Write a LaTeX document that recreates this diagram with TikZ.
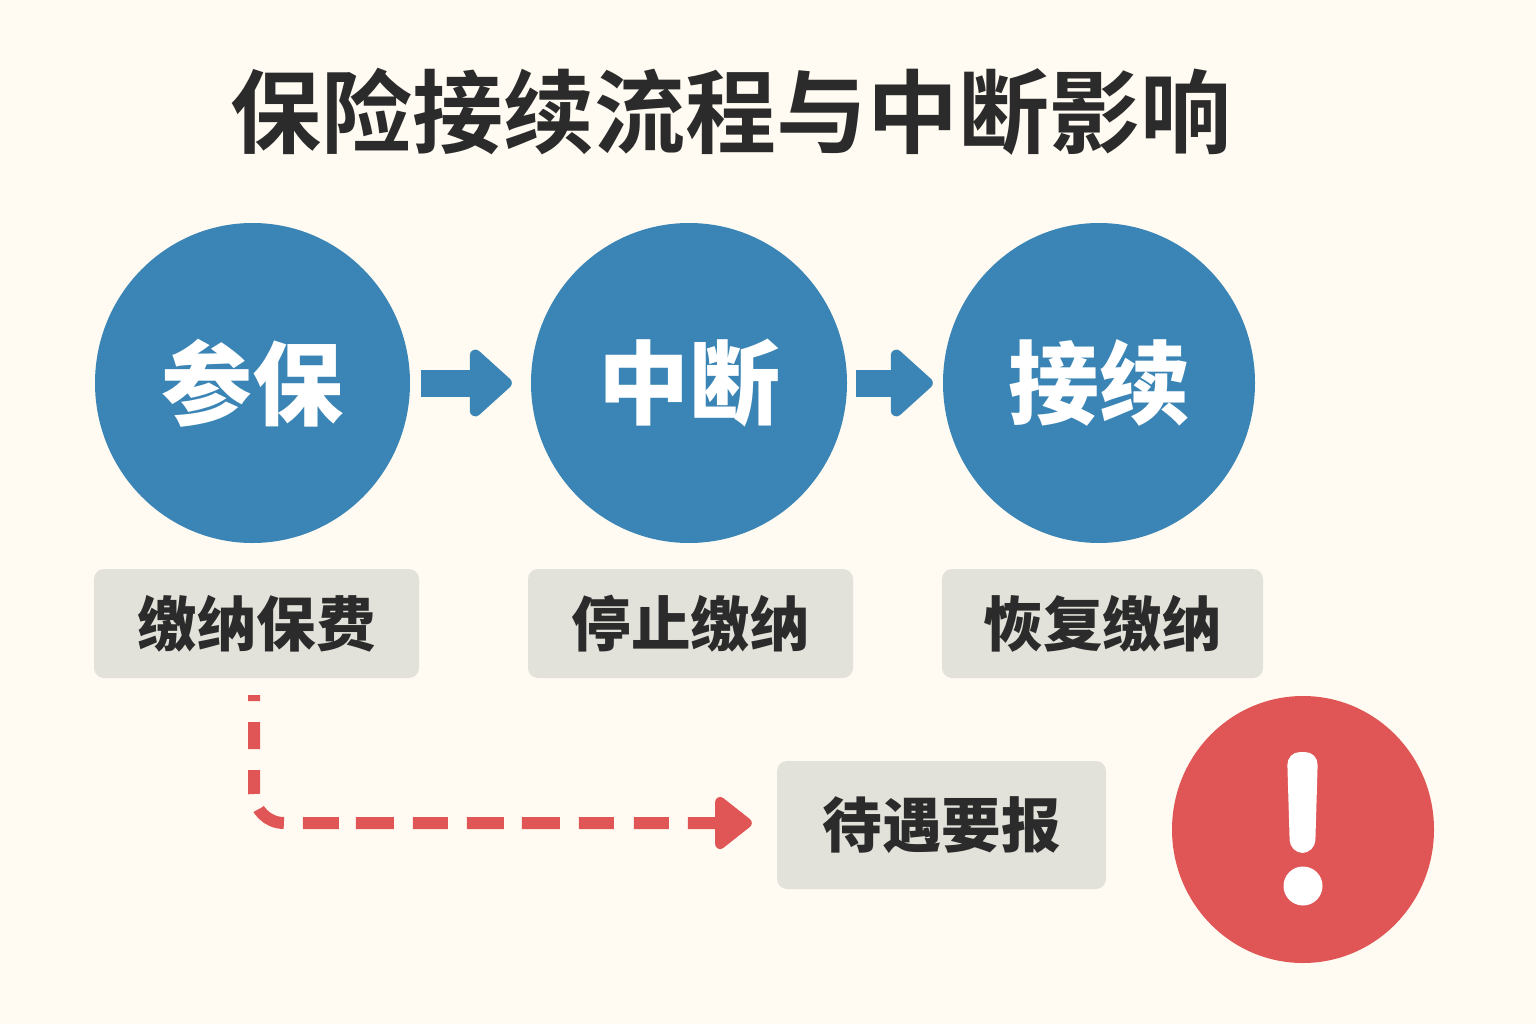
\documentclass[tikz,border=0pt]{standalone}
\usepackage{fontspec}
\setmainfont{Noto Sans CJK SC}[BoldFont={* Bold}]
\newfontfamily\heavy{Noto Sans CJK SC Black}
\usetikzlibrary{arrows.meta}
\usetikzlibrary{shapes.geometric}
\definecolor{paper}{HTML}{FFFBF2}
\definecolor{stepblue}{HTML}{3A85B5}
\definecolor{alertred}{HTML}{E05656}
\definecolor{boxgrey}{HTML}{E2E2DA}
\definecolor{ink}{HTML}{2B2B2B}
\tikzstyle{stage}=[ellipse, inner sep=0, fill=stepblue, text=white, font=\heavy\fontsize{91}{98}\selectfont]
\tikzstyle{note}=[rectangle, rounded corners=10pt, inner sep=0, fill=boxgrey, text=ink, font=\heavy\fontsize{59.5}{66}\selectfont]
\tikzstyle{flow}=[draw=stepblue, line width=27pt, -{Triangle[length=45pt, width=78pt, round]}]
\tikzstyle{risk}=[draw=alertred, line width=12pt, rounded corners=30pt, dash pattern=on 6pt off 21pt on 27pt off 21pt on 24pt off 16pt on 30pt off 19pt on 36pt off 17pt on 38pt off 19pt on 35pt off 19pt on 37pt off 18pt on 38pt off 19pt on 35pt off 20pt on 35pt off 19pt on 60pt off 1pt, -{Triangle[length=40pt, width=60pt, round]}]
\begin{document}
\begin{tikzpicture}[x=1pt, y=-1pt]
    \useasboundingbox[fill=paper] (0,0) rectangle (1536,1024);
    \node[text=ink, font=\bfseries\fontsize{91}{98}\selectfont] (title) at (731,112) {保险接续流程与中断影响};
    \node[stage, minimum width=315pt, minimum height=320pt] (join) at (252.5,383) {参保};
    \node[stage, minimum width=316pt, minimum height=320pt] (pause) at (689,383) {中断};
    \node[stage, minimum width=312pt, minimum height=320pt] (resume) at (1099,383) {接续};
    \node[note, minimum width=325pt, minimum height=109pt] (premium) at (256.5,623.5) {缴纳保费};
    \node[note, minimum width=325pt, minimum height=109pt] (stop) at (690.5,623.5) {停止缴纳};
    \node[note, minimum width=321pt, minimum height=109pt] (restore) at (1102.5,623.5) {恢复缴纳};
    \node[note, minimum width=329pt, minimum height=128pt] (wait) at (941.5,825) {待遇要报};
    \node[ellipse, inner sep=0, fill=alertred, minimum width=262pt, minimum height=267pt] (alert) at (1303,829.5) {};
    \fill[white, rounded corners=13pt] (1287,752) -- (1318,752) -- (1315,853) -- (1290,853) -- cycle;
    \fill[white] (1303,886) circle (19.5);
    \draw[flow, shorten <=11pt, shorten >=19pt] (join) -- (pause);
    \draw[flow, shorten <=9pt, shorten >=10pt] (pause) -- (resume);
    \coordinate (riskstart) at (254,695);
    \draw[risk, shorten >=25pt] (riskstart) |- ([yshift=2pt]wait.west);
\end{tikzpicture}
\end{document}
